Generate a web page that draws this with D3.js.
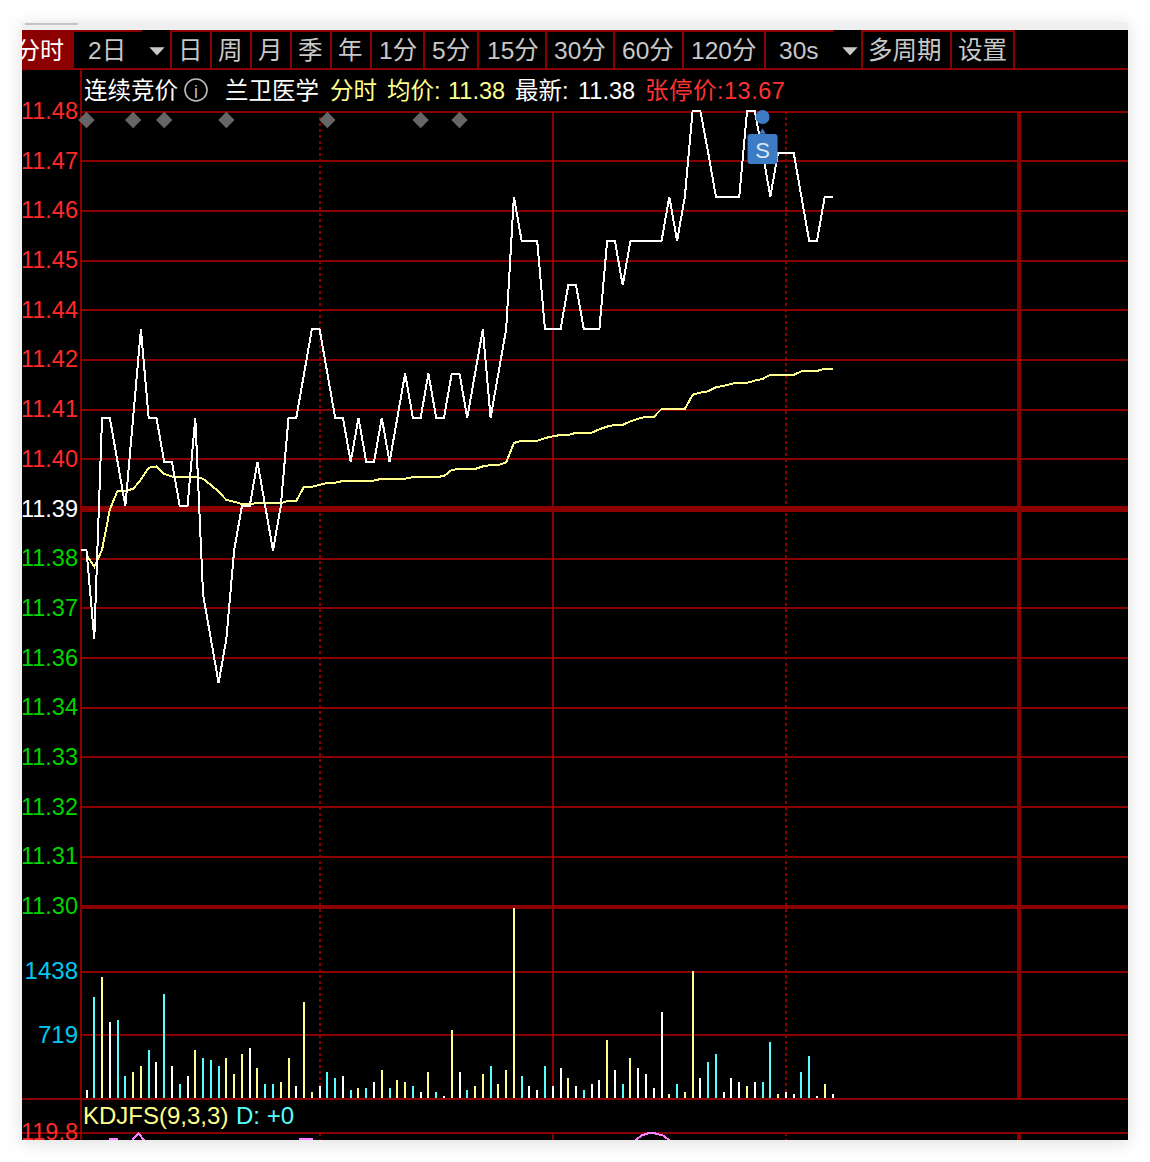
<!DOCTYPE html>
<html lang="zh">
<head>
    <meta charset="UTF-8">
    <title>兰卫医学 分时</title>
    <script src="https://d3js.org/d3.v7.min.js"></script>
    <style>
        body { margin: 0; background: #fff; }
        svg { display: block; }
        text { font-family: "Liberation Sans", "Noto Sans CJK SC", sans-serif; }
    </style>
</head>
<body>
    <div id="chart"></div>
    <script>
        // price per 30s step
        const prices = [
            11.38, 11.36, 11.41, 11.41, 11.40, 11.39, 11.41, 11.43, 11.41, 11.41,
            11.40, 11.40, 11.39, 11.39, 11.41, 11.37, 11.36, 11.35, 11.36, 11.38,
            11.39, 11.39, 11.40, 11.39, 11.38, 11.39, 11.41, 11.41, 11.42, 11.43,
            11.43, 11.42, 11.41, 11.41, 11.40, 11.41, 11.40, 11.40, 11.41, 11.40,
            11.41, 11.42, 11.41, 11.41, 11.42, 11.41, 11.41, 11.42, 11.42, 11.41,
            11.42, 11.43, 11.41, 11.42, 11.43, 11.46, 11.45, 11.45, 11.45, 11.43,
            11.43, 11.43, 11.44, 11.44, 11.43, 11.43, 11.43, 11.45, 11.45, 11.44,
            11.45, 11.45, 11.45, 11.45, 11.45, 11.46, 11.45, 11.46, 11.48, 11.48,
            11.47, 11.46, 11.46, 11.46, 11.46, 11.48, 11.48, 11.47, 11.46, 11.47,
            11.47, 11.47, 11.46, 11.45, 11.45, 11.46, 11.46
        ];
        // average price, yellow line
        const averages = [
            11.3790, 11.3763, 11.3801, 11.3892, 11.3935, 11.3935, 11.3939, 11.3960, 11.3987, 11.3990,
            11.3973, 11.3967, 11.3967, 11.3967, 11.3967, 11.3962, 11.3948, 11.3933, 11.3914, 11.3910,
            11.3905, 11.3905, 11.3907, 11.3907, 11.3907, 11.3907, 11.3912, 11.3912, 11.3944, 11.3944,
            11.3948, 11.3953, 11.3953, 11.3957, 11.3957, 11.3957, 11.3958, 11.3958, 11.3962, 11.3962,
            11.3962, 11.3962, 11.3966, 11.3966, 11.3966, 11.3966, 11.3968, 11.3982, 11.3984, 11.3984,
            11.3984, 11.3990, 11.3993, 11.3993, 11.3999, 11.4043, 11.4048, 11.4048, 11.4048, 11.4054,
            11.4058, 11.4061, 11.4061, 11.4066, 11.4066, 11.4066, 11.4074, 11.4080, 11.4084, 11.4084,
            11.4092, 11.4098, 11.4102, 11.4102, 11.4120, 11.4120, 11.4120, 11.4120, 11.4152, 11.4157,
            11.4160, 11.4169, 11.4172, 11.4177, 11.4179, 11.4179, 11.4184, 11.4188, 11.4197, 11.4197,
            11.4197, 11.4197, 11.4205, 11.4206, 11.4206, 11.4211, 11.4211
        ];
        const volumes = [
            94, 1149, 1374, 857, 880, 251, 296, 363, 543, 408,
            1172, 363, 161, 251, 543, 453, 431, 363, 453, 273,
            498, 565, 341, 161, 161, 183, 453, 139, 1082, 71,
            139, 296, 228, 251, 94, 116, 116, 183, 318, 116,
            206, 183, 139, 71, 296, 71, 26, 768, 296, 94,
            139, 273, 363, 161, 318, 2156, 251, 139, 94, 363,
            139, 341, 228, 139, 94, 161, 206, 655, 318, 161,
            453, 341, 273, 116, 970, 49, 161, 71, 1441, 228,
            408, 498, 71, 228, 183, 139, 183, 183, 633, 49,
            71, 49, 296, 475, 26, 161, 49
        ];
        const priceLabels = ["11.48", "11.47", "11.46", "11.45", "11.44", "11.42", "11.41", "11.40", "11.39",
            "11.38", "11.37", "11.36", "11.34", "11.33", "11.32", "11.31", "11.30"];
        const volumeTicks = [1438, 719];
        const sessionMarks = [30, 60, 90, 120];
        const signalSteps = [0, 6, 10, 18, 31, 43, 48];
        const sellStep = 87;
        const toolbarLabels = ["2日", "日", "周", "月", "季", "年", "1分", "5分", "15分", "30分", "60分", "120分", "30s", "多周期", "设置"];
        // bits of the KDJ curves that still show under the cut-off panel: [step, value]
        const kdjPieces = [
            [[2.9, 115.5], [4, 115.5]],
            [[5.9, 114.5], [6.7, 119.8], [7.4, 114.5]],
            [[27.4, 115.5], [29.2, 115.5]],
            [[70.7, 114.5], [71.4, 118], [72.3, 119.6], [73.1, 119.6], [74.2, 118], [75, 114.5]]
        ];

        const width = 1150, height = 1162;
        const panel = { left: 22, right: 1128, top: 30, bottom: 1140 };
        const axisX = 81;
        const red = "#8b0000", yellow = "#ffff8c", cyan = "#55ffff";

        const svg = d3.select("#chart").append("svg").attr("width", width).attr("height", height);

        const defs = svg.append("defs");
        defs.append("clipPath").attr("id", "panel").append("rect")
            .attr("x", panel.left).attr("y", panel.top)
            .attr("width", panel.right - panel.left).attr("height", panel.bottom - panel.top);
        const shadow = defs.append("filter").attr("id", "shadow")
            .attr("x", "-10%").attr("y", "-10%").attr("width", "120%").attr("height", "120%");
        shadow.append("feDropShadow").attr("dx", 0).attr("dy", 3).attr("stdDeviation", 9)
            .attr("flood-color", "#000").attr("flood-opacity", 0.13);

        // window frame
        svg.append("rect").attr("x", panel.left).attr("y", 22)
            .attr("width", panel.right - panel.left).attr("height", panel.bottom - 22)
            .attr("fill", "#efefef").attr("filter", "url(#shadow)");
        svg.append("rect").attr("x", 25).attr("y", 23).attr("width", 53).attr("height", 2).attr("fill", "#c4c4c4");

        const g = svg.append("g").attr("clip-path", "url(#panel)");
        g.append("rect").attr("x", panel.left).attr("y", panel.top)
            .attr("width", panel.right - panel.left).attr("height", panel.bottom - panel.top)
            .attr("fill", "#000");

        const x = d3.scaleLinear().domain([0, 96]).range([86.5, 832.5]);
        // clamped: the 11.48 peaks ride flat along the top rule
        const y = d3.scaleLinear().domain([11.30, 11.4794]).range([904, 111]).clamp(true);
        const gridY = d3.scaleLinear().domain([0, 16]).range([111, 906]);
        const volY = d3.scaleLinear().domain([0, 1438]).range([1098, 971]);
        const kdjY = d3.scaleLinear().domain([119.8, 100]).range([1133, 1160]);

        // vertical session lines, broken by the KDJ title row
        sessionMarks.forEach(step => {
            const dotted = step % 60 !== 0;
            [[111, 1098], [1133, panel.bottom]].forEach(([a, b]) => {
                g.append("line")
                    .attr("x1", Math.round(x(step))).attr("x2", Math.round(x(step))).attr("y1", a).attr("y2", b)
                    .attr("stroke", red)
                    .attr("stroke-width", step === 120 ? 4 : 2)
                    .attr("stroke-dasharray", dotted ? "3,3" : null)
                    .attr("shape-rendering", "crispEdges");
            });
        });

        // price axis
        const priceAxis = g.append("g")
            .attr("transform", `translate(${axisX},0)`)
            .call(d3.axisLeft(gridY)
                .tickValues(d3.range(priceLabels.length))
                .tickFormat(i => priceLabels[i])
                .tickSize(axisX - panel.right)
                .tickPadding(3));
        priceAxis.select(".domain").remove();
        priceAxis.selectAll("line")
            .attr("stroke", red)
            .attr("stroke-width", i => i === 8 ? 6 : i === 16 ? 4 : 2)
            .attr("shape-rendering", "crispEdges");
        priceAxis.selectAll("text")
            .attr("x", -3)
            .attr("font-size", 23.5)
            .attr("fill", i => i < 8 ? "#ff2a2a" : i === 8 ? "#ffffff" : "#00d400");

        // volume axis
        const volumeAxis = g.append("g")
            .attr("transform", `translate(${axisX},0)`)
            .call(d3.axisLeft(volY)
                .tickValues(volumeTicks)
                .tickSize(axisX - panel.right)
                .tickPadding(3)
                .tickFormat(d => d));
        volumeAxis.select(".domain").remove();
        volumeAxis.selectAll("line").attr("stroke", red).attr("stroke-width", 2).attr("shape-rendering", "crispEdges");
        volumeAxis.selectAll("text").attr("x", -3).attr("font-size", 24).attr("fill", "#00c8f0");

        // fixed rule lines
        [69, 1099, 1133].forEach(ly => {
            g.append("line").attr("x1", panel.left).attr("x2", panel.right).attr("y1", ly).attr("y2", ly)
                .attr("stroke", red).attr("stroke-width", 2).attr("shape-rendering", "crispEdges");
        });
        g.append("line").attr("x1", axisX).attr("x2", axisX).attr("y1", 69).attr("y2", panel.bottom)
            .attr("stroke", red).attr("stroke-width", 2).attr("shape-rendering", "crispEdges");

        // volume bars, coloured by price direction
        g.selectAll(".bar")
            .data(volumes)
            .enter()
            .append("rect")
            .attr("class", "bar")
            .attr("x", (d, i) => Math.round(x(i)) - 1)
            .attr("y", d => volY(d))
            .attr("width", 2)
            .attr("height", d => volY(0) - volY(d))
            .attr("shape-rendering", "crispEdges")
            .attr("fill", (d, i) => {
                if (i === 0 || prices[i] === prices[i - 1]) return "#ffffff";
                return prices[i] > prices[i - 1] ? yellow : cyan;
            });

        // signal diamonds under the header
        g.selectAll(".signal")
            .data(signalSteps)
            .enter()
            .append("path")
            .attr("class", "signal")
            .attr("d", d3.symbol().type(d3.symbolDiamond2).size(170))
            .attr("transform", d => `translate(${x(d)},120)`)
            .attr("fill", "#666666");

        // average and price lines
        const lineAvg = d3.line().x((d, i) => x(i)).y(d => y(d));
        g.append("path").datum(averages)
            .attr("d", lineAvg)
            .attr("fill", "none").attr("stroke", yellow).attr("stroke-width", 2)
            .attr("shape-rendering", "crispEdges");

        const pricePoints = [[-0.65, prices[0]]].concat(prices.map((p, i) => [i, p]));
        const linePrice = d3.line().x(d => x(d[0])).y(d => y(d[1]));
        g.append("path").datum(pricePoints)
            .attr("d", linePrice)
            .attr("fill", "none").attr("stroke", "#ffffff").attr("stroke-width", 2)
            .attr("shape-rendering", "crispEdges");

        // sell marker
        const sx = x(sellStep);
        g.append("circle").attr("cx", sx).attr("cy", 117).attr("r", 7).attr("fill", "#3d7cc4");
        g.append("rect").attr("x", sx - 15).attr("y", 134).attr("width", 30).attr("height", 30).attr("rx", 3).attr("fill", "#3d7cc4");
        g.append("path").attr("d", d3.symbol().type(d3.symbolTriangle).size(18))
            .attr("transform", `translate(${sx},132)`).attr("fill", "#3d7cc4");
        g.append("text").attr("x", sx).attr("y", 158).attr("text-anchor", "middle")
            .attr("font-size", 22).attr("fill", "#dce8f5").text("S");

        // toolbar
        g.append("rect").attr("x", panel.left).attr("y", panel.top).attr("width", 52).attr("height", 38).attr("fill", red);
        g.append("text").attr("x", 16).attr("y", 59).attr("font-size", 24).attr("fill", "#fff").text("分时");
        const toolbarX = [88, 178, 218, 258, 298, 338, 379, 432, 487, 554, 622, 691, 779, 868, 958];
        g.selectAll(".tool")
            .data(toolbarLabels)
            .enter()
            .append("text")
            .attr("class", "tool")
            .attr("x", (d, i) => toolbarX[i])
            .attr("y", 59)
            .attr("font-size", 24.5)
            .attr("fill", "#c8c8c8")
            .text(d => d);
        [171, 211, 251, 291, 331, 371, 424, 478, 546, 614, 683, 765, 862, 951, 1014].forEach(bx => {
            g.append("line").attr("x1", bx).attr("x2", bx).attr("y1", panel.top).attr("y2", 69)
                .attr("stroke", red).attr("stroke-width", 2).attr("shape-rendering", "crispEdges");
        });
        [[74, 142], [171, 834], [862, 1015]].forEach(([a, b]) => {
            g.append("line").attr("x1", a).attr("x2", b).attr("y1", 31).attr("y2", 31)
                .attr("stroke", red).attr("stroke-width", 2).attr("shape-rendering", "crispEdges");
        });
        [157, 850].forEach(tx => {
            g.append("path").attr("d", d3.symbol().type(d3.symbolTriangle).size(70))
                .attr("transform", `translate(${tx},50) scale(1.2,0.75) rotate(180)`).attr("fill", "#c8c8c8");
        });

        // header row
        const header = [
            { t: "连续竞价", x: 84, c: "#ffffff" },
            { t: "兰卫医学", x: 225, c: "#ffffff" },
            { t: "分时", x: 330, c: yellow },
            { t: "均价:", x: 387, c: yellow },
            { t: "11.38", x: 448, c: yellow },
            { t: "最新:", x: 515, c: "#ffffff" },
            { t: "11.38", x: 578, c: "#ffffff" },
            { t: "张停价:13.67", x: 645, c: "#ff3232", s: 0.5 }
        ];
        g.selectAll(".head")
            .data(header)
            .enter()
            .append("text")
            .attr("class", "head")
            .attr("x", d => d.x)
            .attr("y", 99)
            .attr("font-size", 23.5)
            .attr("letter-spacing", d => d.s || 0)
            .attr("fill", d => d.c)
            .text(d => d.t);
        g.append("circle").attr("cx", 196).attr("cy", 90).attr("r", 11)
            .attr("fill", "none").attr("stroke", "#bdbdbd").attr("stroke-width", 1.6);
        g.append("text").attr("x", 196).attr("y", 98).attr("text-anchor", "middle")
            .attr("font-size", 18).attr("fill", "#bdbdbd").text("i");

        // KDJ strip
        g.append("text").attr("x", 83).attr("y", 1123.5).attr("font-size", 24).attr("fill", yellow).text("KDJFS(9,3,3)");
        g.append("text").attr("x", 236).attr("y", 1123.5).attr("font-size", 24).attr("fill", cyan).text("D: +0");
        g.append("text").attr("x", 78).attr("y", 1140).attr("text-anchor", "end").attr("font-size", 23.5).attr("fill", "#ff2a2a").text("119.8");
        const lineKdj = d3.line().x(d => x(d[0])).y(d => kdjY(d[1]));
        g.selectAll(".kdj")
            .data(kdjPieces)
            .enter()
            .append("path")
            .attr("class", "kdj")
            .attr("d", lineKdj)
            .attr("fill", "none")
            .attr("stroke", "#ff80ff")
            .attr("stroke-width", 2)
            .attr("shape-rendering", "crispEdges");
    </script>
</body>
</html>
